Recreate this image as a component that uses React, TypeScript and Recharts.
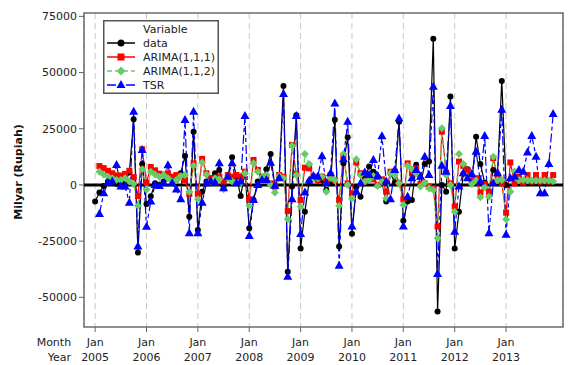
import React from "react";
import {
  LineChart,
  Line,
  XAxis,
  YAxis,
  CartesianGrid,
  ReferenceLine,
  ReferenceArea,
} from "recharts";

// month index 0 = Jan 2005
const monthTicks = [0, 12, 24, 36, 48, 60, 72, 84, 96];
const yearLabels = ["2005", "2006", "2007", "2008", "2009", "2010", "2011", "2012", "2013"];
const valueTicks = [-50000, -25000, 0, 25000, 50000, 75000];

const dataSeries: (number | null)[] = [
  -7400, -3400, -500, 1500, 1000, 500, -500, 1500, 5500, 29200, -30100, 9300,
  -8500, -5000, 700, 0, 1500, 4000, 2900, 2200, 5200, 12900, -14100, 23700,
  -20000, -3000, 1500, 3000, 5200, 6700, -700, 4000, 12300, 3700, -4900, 5500,
  -19300, -6700, 1500, 2200, 7000, 13800, -700, 3700, 44000, -38600, -700, 31000,
  -28300, -11900, 1500, 3000, 2000, 2000, -2200, 700, 29000, -27400, 9600, 21200,
  -21700, -1000, -5200, 3000, 8200, 5900, 3700, 1000, -7400, 5200, 1000, 28100,
  -15900, -7400, -6700, 9000, 0, 9300, 10400, 65000, -56300, 0, -3000, 39300,
  -28300, -11900, 4900, 7000, 1000, 21400, 9300, 1000, -3000, 6700, 4900, 46300,
  0, null, null, null, null, null, null, null, null, null, null, null,
];

const arima111: (number | null)[] = [
  null, 8400, 7500, 6300, 5200, 4200, 4200, 4900, 6300, 3500, -4900, 15900,
  1000, 8000, 6500, 5000, 4500, 5200, 3700, 4400, 3700, 2200, -4000, 9600,
  -4000, 11600, 5200, 3000, 2200, 3700, 1500, 4400, 3700, 4400, 3700, 5900,
  -6400, 11100, 6700, 3700, 3700, 700, -700, 4400, 3700, -11600, 17800, 4900,
  -6700, 7700, 7400, 3700, 2200, 3700, 1500, 4400, 2200, -6700, 12800, 700,
  -3700, 10000, 5200, 1500, 3000, 2500, 0, 2500, -3000, 5900, 5900, 1000,
  -6400, 9600, 5200, 7400, 400, 700, -700, -1500, -18500, 23700, 5500, 700,
  -9600, 10400, 8500, 6700, 2200, 3000, -3400, 400, -3000, 11900, 3700, 700,
  -12300, 10000, 700, 3700, 1000, 4400, 1500, 4400, 1500, 4400, 1500, 4400,
];

const arima112: (number | null)[] = [
  null, 5900, 4700, 3700, 3000, 2200, 2200, 3000, 1500, 500, -9300, 7000,
  -2000, 5900, 4700, 3700, 4400, 3000, 1500, 2200, 4000, 4400, -3000, 8500,
  -6400, 10000, 4700, 1500, 3000, 2500, -1900, 3000, 1500, 1000, 700, 5200,
  -9300, 9600, 5900, 3400, 4400, 0, -3400, 4000, 3000, -15300, 17400, 4400,
  -9600, 13800, 9300, 3000, 3000, 3700, -3000, 3000, 2200, -9300, 13800, 0,
  -6000, 11400, 4400, 1500, 2200, 4000, -500, 1500, -6000, 5200, 4400, 700,
  -8900, 8500, 7000, 5200, -700, 1000, -1500, -2200, -23700, 25200, 4400, 0,
  -11900, 13800, 9300, 3700, 400, 2000, -5500, -1000, -5200, 12600, 2200, 2200,
  -15300, -3000, 6000, 2200, 2200, 2200, 2000, 2000, 2000, 2000, 2000, 1700,
];

const tsr: (number | null)[] = [
  null, -12900, -3700, 1000, 1500, 8900, -700, -700, -7900, 32600, -27400, 15600,
  -18600, -7400, 0, -500, 700, 8800, 700, -2000, -6400, 28900, -21500, 32600,
  -21500, -7900, 700, 1500, 1000, 9600, -1500, 3700, 9600, 700, 1500, 30700,
  -22700, -6700, 0, 2200, 2200, 9900, -400, 3000, 40500, -40800, -6400, 30700,
  -21800, -3400, 2000, 4000, 3700, 12800, 700, 5200, 36200, -36000, 11400, 28100,
  -18500, -3000, 700, 5500, 4400, 11100, 4000, 21700, 1500, -6400, 6700, 29600,
  -18500, -5200, 3000, 6700, 3700, 12500, 4400, 43700, -39600, 8500, 5900, 35100,
  -20800, -700, 5200, 3000, 4900, 14800, 1500, 21800, -21500, 700, 5200, 33500,
  -22200, 3000, 3700, 6700, 5900, 14400, 21800, 12600, -3700, -3700, 9300, 31600,
];

const rows = dataSeries.map((v, i) => ({
  month: i,
  data: v,
  arima111: arima111[i],
  arima112: arima112[i],
  tsr: tsr[i],
}));

const FONT = "DejaVu Sans";
const RED = "#ff0000";
const GREEN = "#66cc66";
const BLUE = "#0000ff";

const missing = (p: any) => p.cy == null || Number.isNaN(p.cy) || p.value == null;

const circleDot = (p: any) =>
  missing(p) ? <g key={`c${p.index}`} /> : <circle key={`c${p.index}`} cx={p.cx} cy={p.cy} r={3} fill="#000" />;

const squareDot = (p: any) =>
  missing(p) ? <g key={`s${p.index}`} /> : (
    <rect key={`s${p.index}`} x={p.cx - 3} y={p.cy - 3} width={6} height={6} fill={RED} />
  );

const diamondDot = (p: any) =>
  missing(p) ? <g key={`d${p.index}`} /> : (
    <polygon
      key={`d${p.index}`}
      points={`${p.cx},${p.cy - 4} ${p.cx + 4},${p.cy} ${p.cx},${p.cy + 4} ${p.cx - 4},${p.cy}`}
      fill={GREEN}
    />
  );

const triangleDot = (p: any) =>
  missing(p) ? <g key={`t${p.index}`} /> : (
    <polygon
      key={`t${p.index}`}
      points={`${p.cx},${p.cy - 5} ${p.cx + 4.5},${p.cy + 3} ${p.cx - 4.5},${p.cy + 3}`}
      fill={BLUE}
    />
  );

const MonthTick = (props: any) => {
  const { x, y, index } = props;
  return (
    <g fontFamily={FONT} fontSize={11} fill="#222">
      <text x={x} y={y + 12} textAnchor="middle">Jan</text>
      <text x={x} y={y + 27} textAnchor="middle">{yearLabels[index]}</text>
      {index === 0 && (
        <>
          <text x={x - 24} y={y + 12} textAnchor="end">Month</text>
          <text x={x - 24} y={y + 27} textAnchor="end">Year</text>
        </>
      )}
    </g>
  );
};

const legendItems = [
  { name: "data", color: "#000", dash: undefined as string | undefined, dot: "circle" },
  { name: "ARIMA(1,1,1)", color: RED, dash: undefined, dot: "square" },
  { name: "ARIMA(1,1,2)", color: GREEN, dash: "5 3", dot: "diamond" },
  { name: "TSR", color: BLUE, dash: "9 3 4 3", dot: "triangle" },
];

function LegendBox() {
  return (
    <svg
      width={116}
      height={74}
      style={{ position: "absolute", left: 103, top: 20, background: "#fff" }}
    >
      <rect x={0.75} y={0.75} width={114.5} height={72.5} fill="#fff" stroke="#555" strokeWidth={1.5} />
      <g fontFamily={FONT} fontSize={11} fill="#222">
        <text x={40} y={13}>Variable</text>
        {legendItems.map((it, i) => {
          const cy = 23 + i * 14;
          const cx = 18;
          let marker;
          if (it.dot === "circle") marker = <circle cx={cx} cy={cy} r={3.5} fill="#000" />;
          else if (it.dot === "square") marker = <rect x={cx - 3.5} y={cy - 3.5} width={7} height={7} fill={RED} />;
          else if (it.dot === "diamond")
            marker = <polygon points={`${cx},${cy - 4.5} ${cx + 4.5},${cy} ${cx},${cy + 4.5} ${cx - 4.5},${cy}`} fill={GREEN} />;
          else marker = <polygon points={`${cx},${cy - 5} ${cx + 4.5},${cy + 3} ${cx - 4.5},${cy + 3}`} fill={BLUE} />;
          return (
            <g key={it.name}>
              <line x1={4} x2={32} y1={cy} y2={cy} stroke={it.color} strokeWidth={1.5} strokeDasharray={it.dash} />
              {marker}
              <text x={40} y={cy + 4}>{it.name}</text>
            </g>
          );
        })}
      </g>
    </svg>
  );
}

export default function App() {
  return (
    <div style={{ position: "absolute", left: 0, top: 0, width: 568, height: 365, background: "#fff" }}>
      <LineChart width={568} height={365} data={rows} margin={{ top: 13, right: 5, bottom: 0, left: 0 }}>
        <CartesianGrid horizontal={false} stroke="#c8c8c8" strokeDasharray="6 4" />
        <XAxis
          dataKey="month"
          type="number"
          domain={[-2.6, 109.3]}
          ticks={monthTicks}
          interval={0}
          allowDataOverflow
          axisLine={false}
          tickLine={{ stroke: "#666" }}
          tickSize={5}
          height={38}
          tick={<MonthTick />}
        />
        <YAxis
          type="number"
          domain={[-63200, 76500]}
          ticks={valueTicks}
          allowDataOverflow
          axisLine={false}
          tickLine={{ stroke: "#666" }}
          tickSize={5}
          width={84}
          tick={{ fontFamily: FONT, fontSize: 11, fill: "#222" }}
          label={() => (
            <text
              x={22}
              y={172}
              transform="rotate(-90 22 172)"
              textAnchor="middle"
              fontFamily={FONT}
              fontSize={11}
              fontWeight="bold"
              fill="#111"
            >
              Milyar (Rupiah)
            </text>
          )}
        />
        <ReferenceArea
          x1={-2.6}
          x2={109.3}
          y1={-63200}
          y2={76500}
          fill="none"
          stroke="#6b6b6b"
          strokeWidth={1.5}
          ifOverflow="visible"
        />
        <ReferenceLine y={0} stroke="#000" strokeWidth={3} />
        <Line
          dataKey="data"
          stroke="#000"
          strokeWidth={1.2}
          dot={circleDot}
          activeDot={false}
          isAnimationActive={false}
        />
        <Line
          dataKey="arima111"
          stroke={RED}
          strokeWidth={1.2}
          dot={squareDot}
          activeDot={false}
          isAnimationActive={false}
        />
        <Line
          dataKey="arima112"
          stroke={GREEN}
          strokeWidth={1.2}
          strokeDasharray="5 3"
          dot={diamondDot}
          activeDot={false}
          isAnimationActive={false}
        />
        <Line
          dataKey="tsr"
          stroke={BLUE}
          strokeWidth={1.2}
          strokeDasharray="9 3 4 3"
          dot={triangleDot}
          activeDot={false}
          isAnimationActive={false}
        />
      </LineChart>
      <LegendBox />
    </div>
  );
}
